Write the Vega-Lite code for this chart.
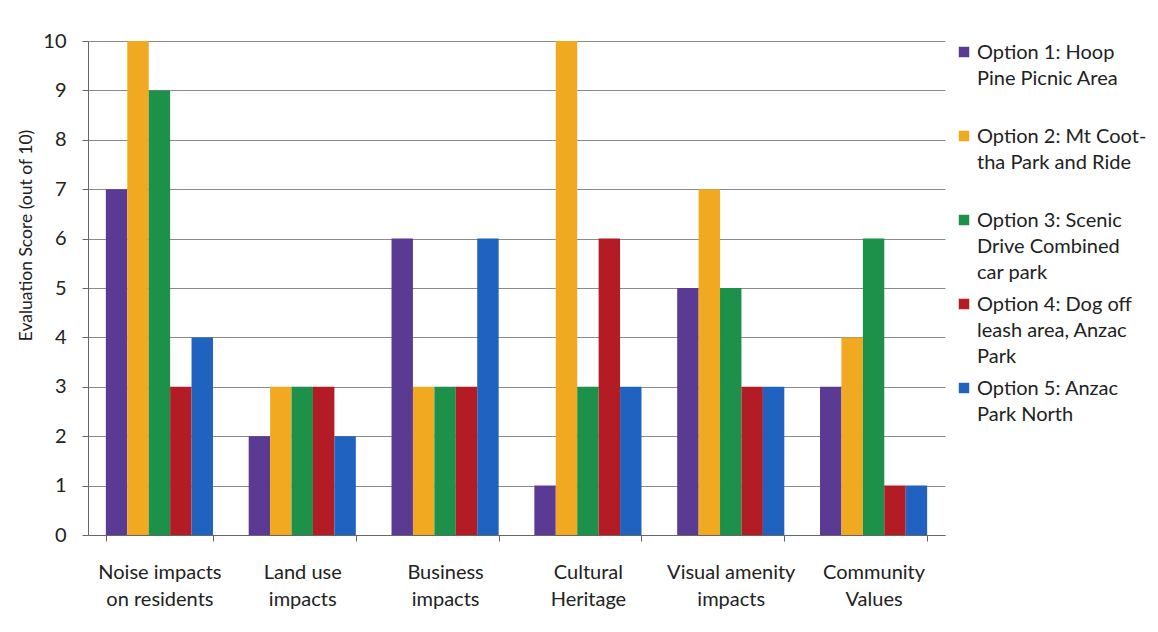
{
  "$schema": "https://vega.github.io/schema/vega-lite/v6.json",
  "width": 857,
  "height": 494,
  "autosize": {"type": "none"},
  "padding": {"left": 88, "top": 41, "right": 213, "bottom": 97},
  "background": "white",
  "config": {
    "font": "Lato",
    "view": {"stroke": null}
  },
  "data": {
    "values": [
      {"category": "Noise impacts on residents", "option": "Option 1: Hoop Pine Picnic Area", "score": 7},
      {"category": "Noise impacts on residents", "option": "Option 2: Mt Coot-tha Park and Ride", "score": 10},
      {"category": "Noise impacts on residents", "option": "Option 3: Scenic Drive Combined car park", "score": 9},
      {"category": "Noise impacts on residents", "option": "Option 4: Dog off leash area, Anzac Park", "score": 3},
      {"category": "Noise impacts on residents", "option": "Option 5: Anzac Park North", "score": 4},
      {"category": "Land use impacts", "option": "Option 1: Hoop Pine Picnic Area", "score": 2},
      {"category": "Land use impacts", "option": "Option 2: Mt Coot-tha Park and Ride", "score": 3},
      {"category": "Land use impacts", "option": "Option 3: Scenic Drive Combined car park", "score": 3},
      {"category": "Land use impacts", "option": "Option 4: Dog off leash area, Anzac Park", "score": 3},
      {"category": "Land use impacts", "option": "Option 5: Anzac Park North", "score": 2},
      {"category": "Business impacts", "option": "Option 1: Hoop Pine Picnic Area", "score": 6},
      {"category": "Business impacts", "option": "Option 2: Mt Coot-tha Park and Ride", "score": 3},
      {"category": "Business impacts", "option": "Option 3: Scenic Drive Combined car park", "score": 3},
      {"category": "Business impacts", "option": "Option 4: Dog off leash area, Anzac Park", "score": 3},
      {"category": "Business impacts", "option": "Option 5: Anzac Park North", "score": 6},
      {"category": "Cultural Heritage", "option": "Option 1: Hoop Pine Picnic Area", "score": 1},
      {"category": "Cultural Heritage", "option": "Option 2: Mt Coot-tha Park and Ride", "score": 10},
      {"category": "Cultural Heritage", "option": "Option 3: Scenic Drive Combined car park", "score": 3},
      {"category": "Cultural Heritage", "option": "Option 4: Dog off leash area, Anzac Park", "score": 6},
      {"category": "Cultural Heritage", "option": "Option 5: Anzac Park North", "score": 3},
      {"category": "Visual amenity impacts", "option": "Option 1: Hoop Pine Picnic Area", "score": 5},
      {"category": "Visual amenity impacts", "option": "Option 2: Mt Coot-tha Park and Ride", "score": 7},
      {"category": "Visual amenity impacts", "option": "Option 3: Scenic Drive Combined car park", "score": 5},
      {"category": "Visual amenity impacts", "option": "Option 4: Dog off leash area, Anzac Park", "score": 3},
      {"category": "Visual amenity impacts", "option": "Option 5: Anzac Park North", "score": 3},
      {"category": "Community Values", "option": "Option 1: Hoop Pine Picnic Area", "score": 3},
      {"category": "Community Values", "option": "Option 2: Mt Coot-tha Park and Ride", "score": 4},
      {"category": "Community Values", "option": "Option 3: Scenic Drive Combined car park", "score": 6},
      {"category": "Community Values", "option": "Option 4: Dog off leash area, Anzac Park", "score": 1},
      {"category": "Community Values", "option": "Option 5: Anzac Park North", "score": 1}
    ]
  },
  "mark": {"type": "bar"},
  "encoding": {
    "x": {
      "field": "category",
      "type": "nominal",
      "sort": null,
      "scale": {"paddingInner": 0.25, "paddingOuter": 0.125},
      "axis": {
        "title": null,
        "labelAngle": 0,
        "labelFontSize": 20,
        "labelColor": "#222222",
        "labelLineHeight": 27,
        "labelPadding": 21,
        "labelBaseline": "top",
        "labelLimit": 300,
        "labelOverlap": false,
        "tickBand": "extent",
        "tickSize": 6,
        "tickColor": "#666666",
        "domainColor": "#666666",
        "grid": false,
        "labelExpr": "datum.value == 'Noise impacts on residents' ? ['Noise impacts', 'on residents'] : datum.value == 'Land use impacts' ? ['Land use', 'impacts'] : datum.value == 'Business impacts' ? ['Business', 'impacts'] : datum.value == 'Cultural Heritage' ? ['Cultural', 'Heritage'] : datum.value == 'Visual amenity impacts' ? ['Visual amenity', 'impacts'] : datum.value == 'Community Values' ? ['Community', 'Values'] : ''"
      }
    },
    "xOffset": {"field": "option", "type": "nominal", "scale": {"paddingInner": 0, "paddingOuter": 0}},
    "y": {
      "field": "score",
      "type": "quantitative",
      "scale": {"domain": [0, 10], "nice": false},
      "axis": {
        "title": "Evaluation Score (out of 10)",
        "titleFontSize": 17.5,
        "titleFontWeight": "normal",
        "titleColor": "#222222",
        "titlePadding": 7,
        "titleY": 194,
        "values": [0, 1, 2, 3, 4, 5, 6, 7, 8, 9, 10],
        "labelOverlap": false,
        "labelFontSize": 20,
        "labelColor": "#222222",
        "labelPadding": 16,
        "tickSize": 6,
        "tickColor": "#666666",
        "domainColor": "#666666",
        "gridColor": "#8a8a8a",
        "gridOpacity": 1
      }
    },
    "color": {
      "field": "option",
      "type": "nominal",
      "scale": {"range": ["#5a3a93", "#f2a922", "#1d914a", "#b31c24", "#1f62c0"]},
      "legend": {
        "title": null,
        "orient": "none",
        "legendX": 866,
        "legendY": 1,
        "padding": 0,
        "symbolType": "square",
        "symbolSize": 110,
        "symbolStrokeWidth": 0,
        "symbolOpacity": 1,
        "labelFontSize": 20,
        "labelColor": "#222222",
        "labelBaseline": "top",
        "labelOffset": 3,
        "labelLimit": 300,
        "rowPadding": 11,
        "labelExpr": "datum.value == 'Option 1: Hoop Pine Picnic Area' ? ['Option 1: Hoop', 'Pine Picnic Area', ''] : datum.value == 'Option 2: Mt Coot-tha Park and Ride' ? ['Option 2: Mt Coot-', 'tha Park and Ride', ''] : datum.value == 'Option 3: Scenic Drive Combined car park' ? ['Option 3: Scenic', 'Drive Combined', 'car park'] : datum.value == 'Option 4: Dog off leash area, Anzac Park' ? ['Option 4: Dog off', 'leash area, Anzac', 'Park'] : ['Option 5: Anzac', 'Park North', '']",
        "encode": {"labels": {"update": {"lineHeight": {"value": 26}, "dy": {"value": -9}}}}
      }
    }
  }
}
